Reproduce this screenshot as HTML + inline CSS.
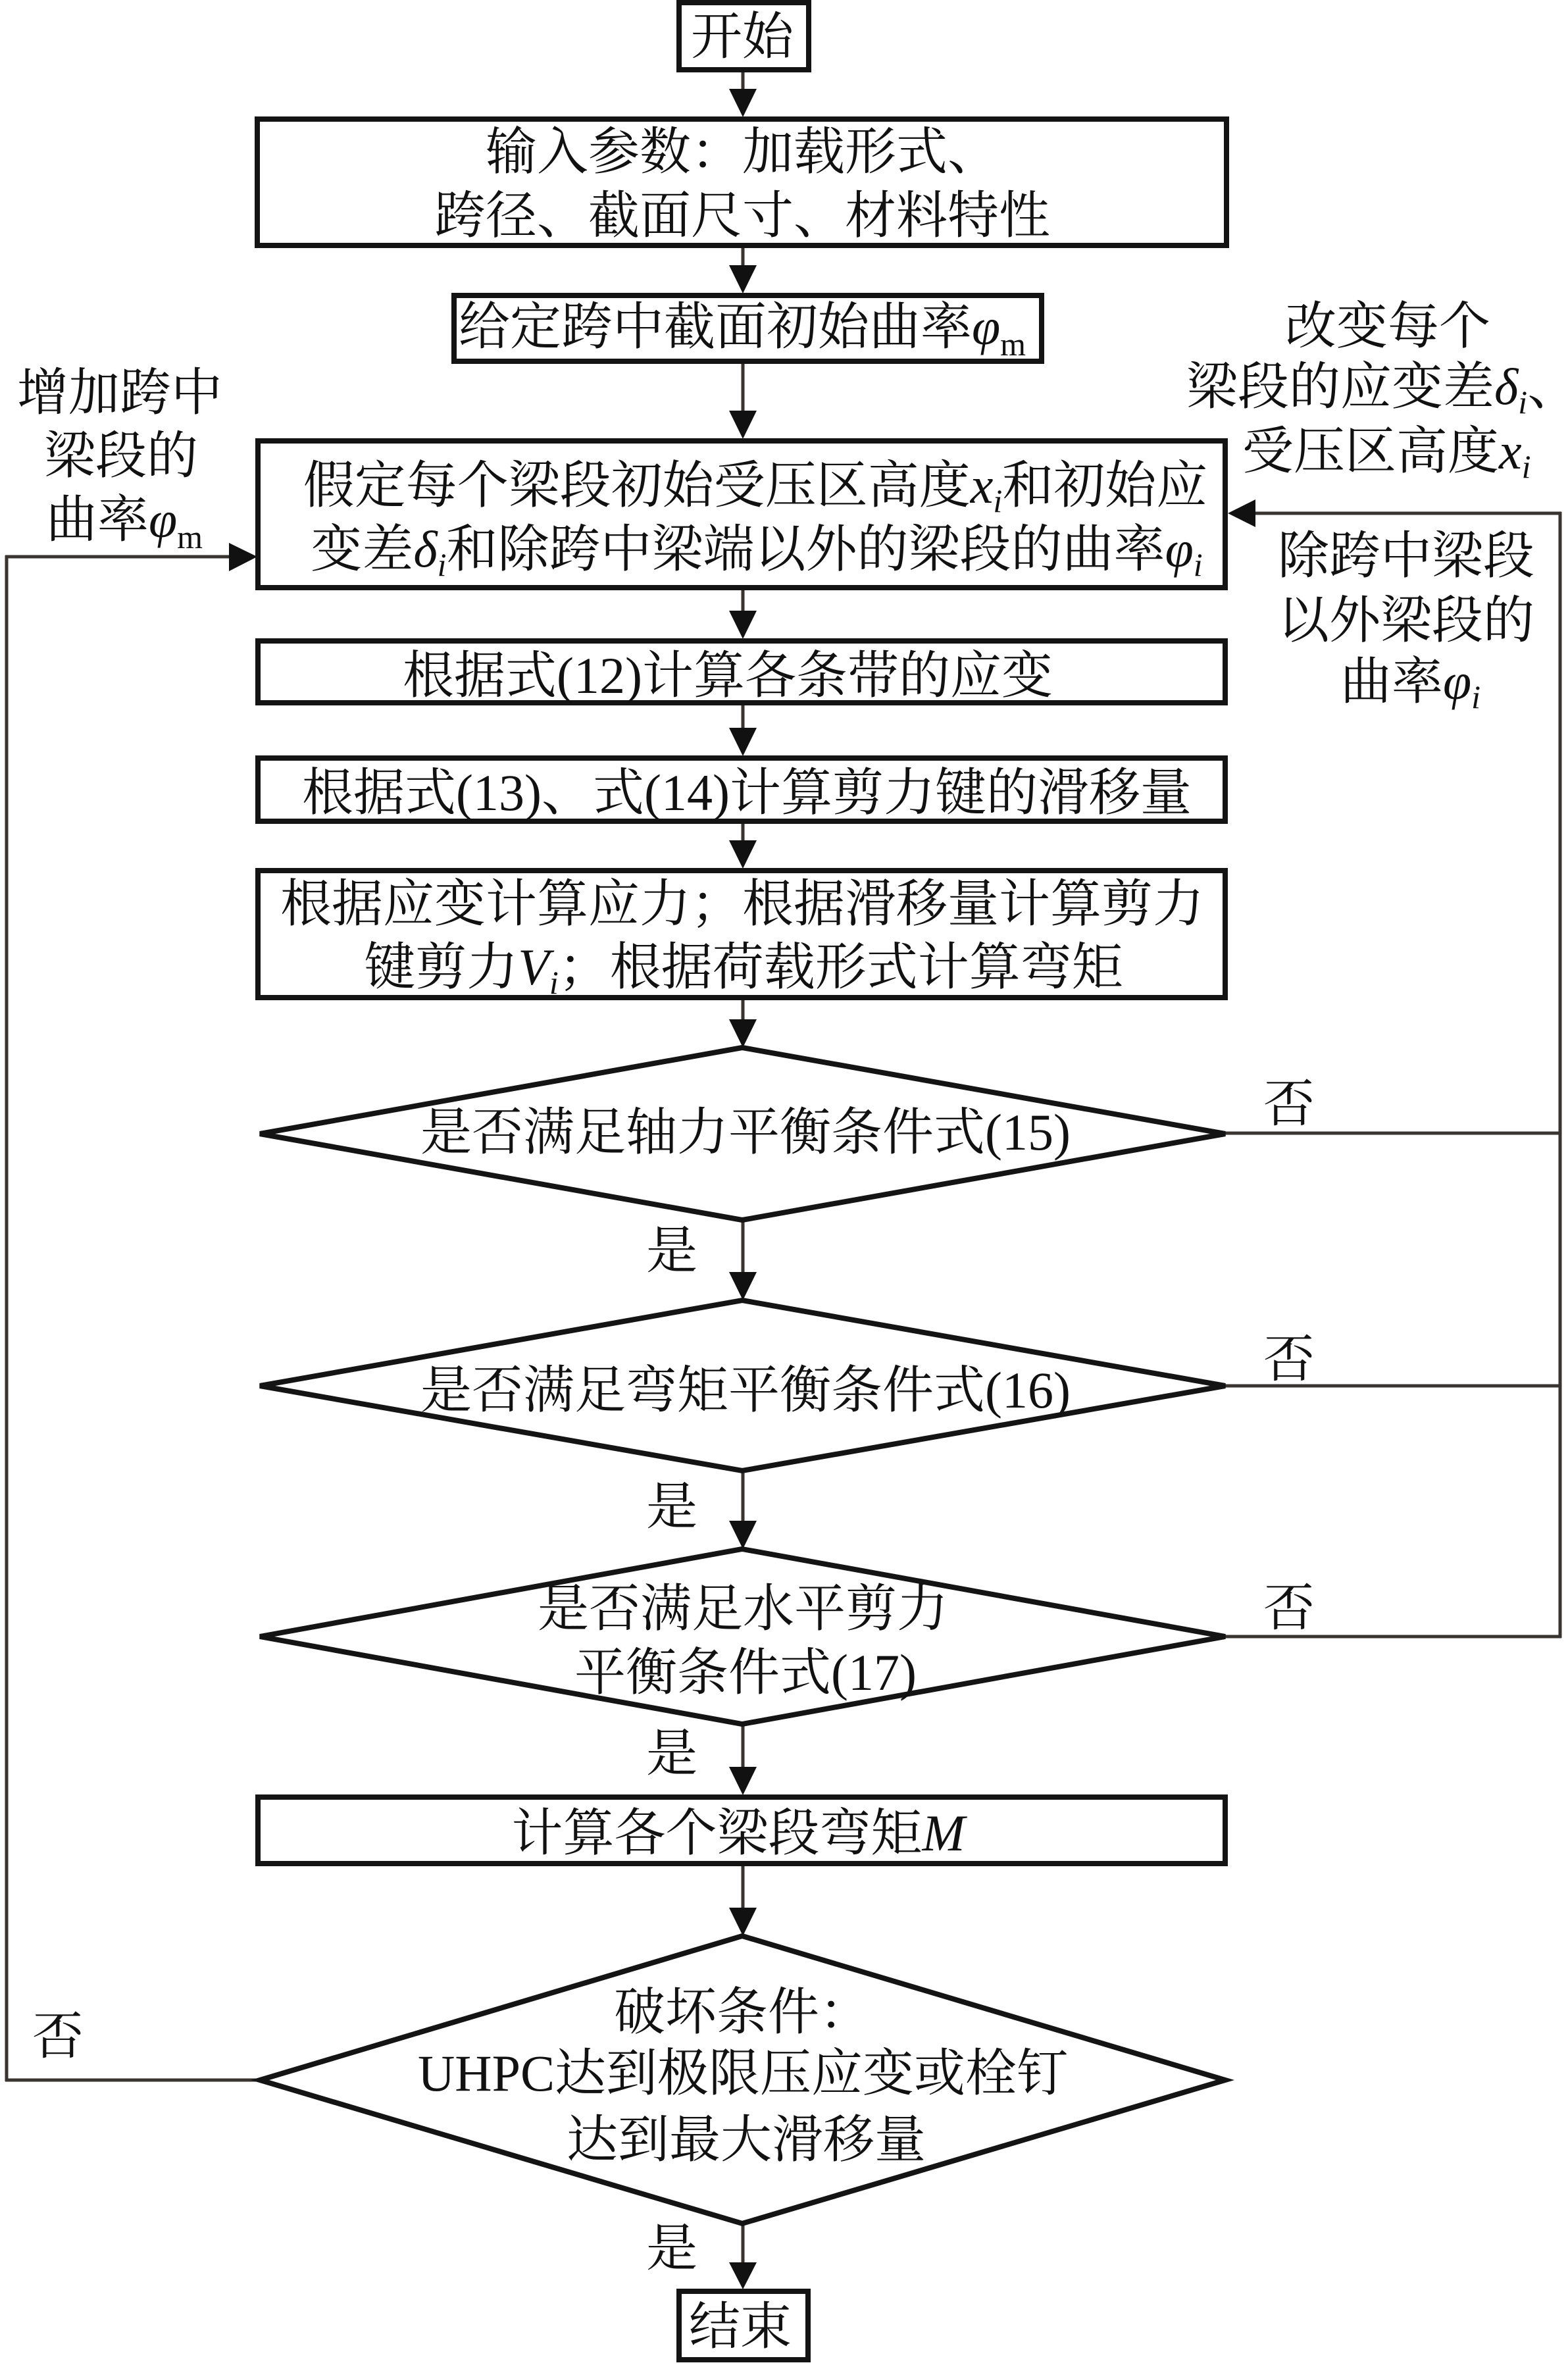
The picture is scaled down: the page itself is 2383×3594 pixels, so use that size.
<!DOCTYPE html>
<html>
<head>
<meta charset="utf-8">
<style>
  html,body{margin:0;padding:0;background:#fff;}
  svg{display:block;}
  .t{font-family:"Liberation Serif","Noto Serif CJK SC",serif;font-size:78px;fill:#111;}
  .it{font-style:italic;}
  .sub{font-size:50px;}
  .box{fill:#fff;stroke:#141414;stroke-width:8;}
  .dia{fill:#fff;stroke:#141414;stroke-width:8;stroke-linejoin:miter;}
  .ln{stroke:#3a3431;stroke-width:5;fill:none;}
  .ah{fill:#111;}
</style>
</head>
<body>
<svg width="2383" height="3594" viewBox="0 0 2383 3594" xmlns="http://www.w3.org/2000/svg">
  <rect x="0" y="0" width="2383" height="3594" fill="#fff"/>

  <!-- vertical connectors -->
  <line class="ln" x1="1129" y1="106" x2="1129" y2="140"/>
  <polygon class="ah" points="1108,135 1150,135 1129,178"/>

  <line class="ln" x1="1129" y1="375" x2="1129" y2="408"/>
  <polygon class="ah" points="1108,403 1150,403 1129,446"/>

  <line class="ln" x1="1129" y1="550" x2="1129" y2="630"/>
  <polygon class="ah" points="1108,624 1150,624 1129,667"/>

  <line class="ln" x1="1129" y1="895" x2="1129" y2="934"/>
  <polygon class="ah" points="1108,928 1150,928 1129,971"/>

  <line class="ln" x1="1129" y1="1070" x2="1129" y2="1112"/>
  <polygon class="ah" points="1108,1106 1150,1106 1129,1149"/>

  <line class="ln" x1="1129" y1="1250" x2="1129" y2="1283"/>
  <polygon class="ah" points="1108,1277 1150,1277 1129,1320"/>

  <line class="ln" x1="1129" y1="1518" x2="1129" y2="1555"/>
  <polygon class="ah" points="1108,1549 1150,1549 1129,1592"/>

  <line class="ln" x1="1129" y1="1855" x2="1129" y2="1939"/>
  <polygon class="ah" points="1108,1933 1150,1933 1129,1976"/>

  <line class="ln" x1="1129" y1="2236" x2="1129" y2="2317"/>
  <polygon class="ah" points="1108,2311 1150,2311 1129,2354"/>

  <line class="ln" x1="1129" y1="2621" x2="1129" y2="2691"/>
  <polygon class="ah" points="1108,2685 1150,2685 1129,2728"/>

  <line class="ln" x1="1129" y1="2834" x2="1129" y2="2905"/>
  <polygon class="ah" points="1108,2899 1150,2899 1129,2942"/>

  <line class="ln" x1="1129" y1="3380" x2="1129" y2="3444"/>
  <polygon class="ah" points="1108,3438 1150,3438 1129,3479"/>

  <!-- right loop -->
  <line class="ln" x1="1862" y1="1722" x2="2373" y2="1722"/>
  <line class="ln" x1="1862" y1="2106" x2="2373" y2="2106"/>
  <line class="ln" x1="1862" y1="2487" x2="2373" y2="2487"/>
  <line class="ln" x1="2371" y1="778" x2="2371" y2="2489"/>
  <line class="ln" x1="1900" y1="780" x2="2373" y2="780"/>
  <polygon class="ah" points="1866,780 1908,759 1908,801"/>

  <!-- left loop -->
  <line class="ln" x1="392" y1="3161" x2="8" y2="3161"/>
  <line class="ln" x1="10" y1="844" x2="10" y2="3163"/>
  <line class="ln" x1="8" y1="846" x2="352" y2="846"/>
  <polygon class="ah" points="391,846 348,825 348,868"/>

  <!-- boxes -->
  <rect class="box" x="1032" y="4" width="197" height="102"/>
  <rect class="box" x="391" y="181" width="1473" height="192"/>
  <rect class="box" x="690" y="449" width="893" height="100"/>
  <rect class="box" x="392" y="670" width="1470" height="223"/>
  <rect class="box" x="392" y="974" width="1470" height="94"/>
  <rect class="box" x="392" y="1152" width="1470" height="96"/>
  <rect class="box" x="392" y="1323" width="1470" height="193"/>
  <rect class="box" x="392" y="2731" width="1470" height="101"/>
  <rect class="box" x="1032" y="3482" width="196" height="104"/>

  <!-- diamonds -->
  <polygon class="dia" points="1128,1592 1862,1723 1128,1854 395,1723"/>
  <polygon class="dia" points="1128,1976 1862,2106 1128,2235 395,2106"/>
  <polygon class="dia" points="1128,2354 1862,2487 1128,2620 395,2487"/>
  <polygon class="dia" points="1128,2942 1862,3161 1128,3379 395,3161"/>

  <!-- texts in boxes -->
  <text class="t" x="1128" y="82" text-anchor="middle">开始</text>

  <text class="t" x="1128" y="257" text-anchor="middle">输入参数：加载形式、</text>
  <text class="t" x="1128" y="354" text-anchor="middle">跨径、截面尺寸、材料特性</text>

  <text class="t" x="697" y="523">给定跨中截面初始曲率<tspan class="it">φ</tspan><tspan class="sub" dy="17">m</tspan></text>

  <text class="t" x="1148" y="764" text-anchor="middle">假定每个梁段初始受压区高度<tspan class="it">x</tspan><tspan class="sub it" dy="14">i</tspan><tspan dy="-14">和初始应</tspan></text>
  <text class="t" x="1150" y="861" text-anchor="middle">变差<tspan class="it">δ</tspan><tspan class="sub it" dy="14">i</tspan><tspan dy="-14">和除跨中梁端以外的梁段的曲率</tspan><tspan class="it">φ</tspan><tspan class="sub it" dy="14">i</tspan></text>

  <text class="t" x="1106" y="1053" text-anchor="middle">根据式(12)计算各条带的应变</text>

  <text class="t" x="1135" y="1231" text-anchor="middle">根据式(13)、式(14)计算剪力键的滑移量</text>

  <text class="t" x="1128" y="1400" text-anchor="middle">根据应变计算应力；根据滑移量计算剪力</text>
  <text class="t" x="1130" y="1496" text-anchor="middle">键剪力<tspan class="it">V</tspan><tspan class="sub it" dy="14">i</tspan><tspan dy="-14">；根据荷载形式计算弯矩</tspan></text>

  <text class="t" x="1133" y="1747" text-anchor="middle">是否满足轴力平衡条件式(15)</text>
  <text class="t" x="1133" y="2139" text-anchor="middle">是否满足弯矩平衡条件式(16)</text>

  <text class="t" x="1129" y="2471" text-anchor="middle">是否满足水平剪力</text>
  <text class="t" x="1133" y="2568" text-anchor="middle">平衡条件式(17)</text>

  <text class="t" x="1122" y="2812" text-anchor="middle">计算各个梁段弯矩<tspan class="it">M</tspan></text>

  <text class="t" x="1128" y="3084" text-anchor="middle">破坏条件：</text>
  <text class="t" x="1129" y="3177" text-anchor="middle">UHPC达到极限压应变或栓钉</text>
  <text class="t" x="1134" y="3278" text-anchor="middle">达到最大滑移量</text>

  <text class="t" x="1125" y="3562" text-anchor="middle">结束</text>

  <!-- yes / no labels -->
  <text class="t" x="1021" y="1927" text-anchor="middle">是</text>
  <text class="t" x="1021" y="2316" text-anchor="middle">是</text>
  <text class="t" x="1021" y="2691" text-anchor="middle">是</text>
  <text class="t" x="1021" y="3443" text-anchor="middle">是</text>

  <text class="t" x="1959" y="1704" text-anchor="middle">否</text>
  <text class="t" x="1959" y="2092" text-anchor="middle">否</text>
  <text class="t" x="1959" y="2470" text-anchor="middle">否</text>
  <text class="t" x="88" y="3121" text-anchor="middle">否</text>

  <!-- right notes -->
  <text class="t" x="2109" y="522" text-anchor="middle">改变每个</text>
  <text class="t" x="1803" y="614">梁段的应变差<tspan class="it">δ</tspan><tspan class="sub it" dy="14">i</tspan><tspan dy="-14">、</tspan></text>
  <text class="t" x="1888" y="712">受压区高度<tspan class="it">x</tspan><tspan class="sub it" dy="14">i</tspan></text>
  <text class="t" x="2137" y="871" text-anchor="middle">除跨中梁段</text>
  <text class="t" x="2137" y="969" text-anchor="middle">以外梁段的</text>
  <text class="t" x="2037" y="1062">曲率<tspan class="it">φ</tspan><tspan class="sub it" dy="14">i</tspan></text>

  <!-- left notes -->
  <text class="t" x="182" y="623" text-anchor="middle">增加跨中</text>
  <text class="t" x="184" y="719" text-anchor="middle">梁段的</text>
  <text class="t" x="70" y="816">曲率<tspan class="it">φ</tspan><tspan class="sub" dy="17">m</tspan></text>
</svg>
</body>
</html>
